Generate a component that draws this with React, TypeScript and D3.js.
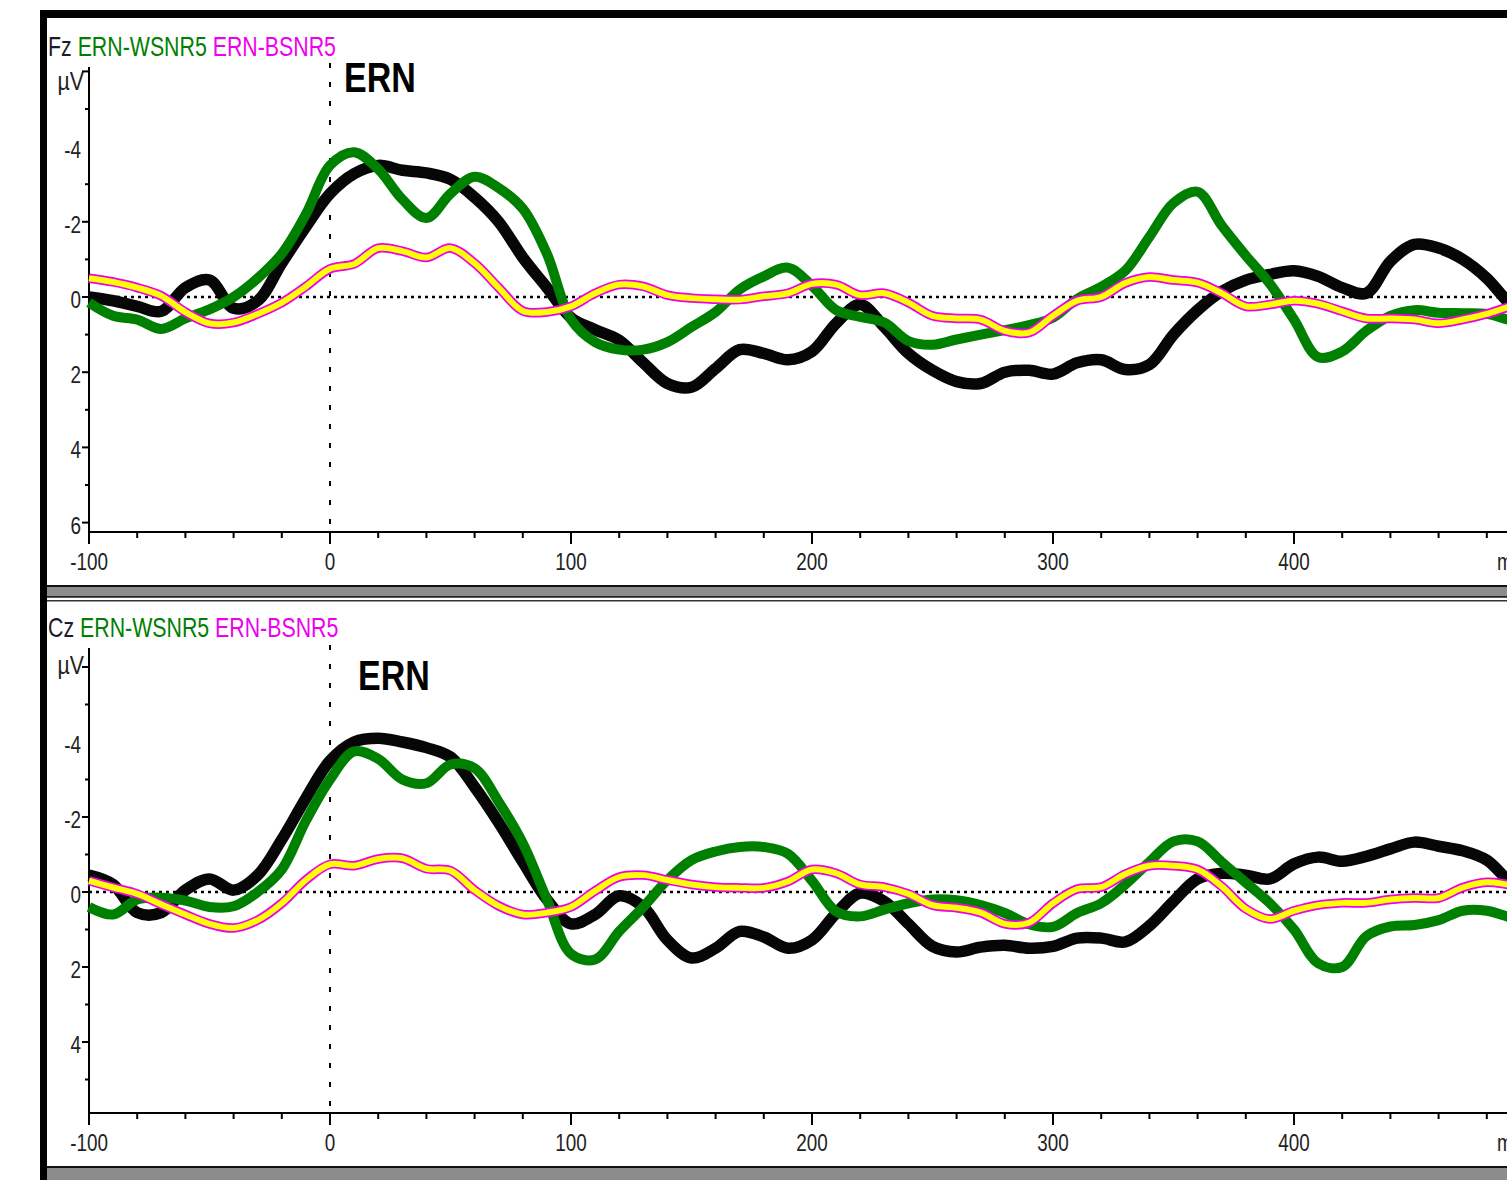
import React from 'react';
import * as d3 from 'd3';

// sample grid (ms)
const times = d3.range(-100, 501, 10);

// Fz channel, µV (negative is drawn up)
const fzBlack = [
  0.0, 0.1, 0.25, 0.38, -0.25, -0.45, 0.3, 0.1, -0.9, -1.87,
  -2.75, -3.28, -3.5, -3.37, -3.3, -3.13, -2.65, -2.0, -1.05, -0.25,
  0.55, 0.87, 1.15, 1.75, 2.3, 2.4, 1.9, 1.4, 1.5, 1.67,
  1.45, 0.7, 0.2, 0.8, 1.5, 1.95, 2.25, 2.3, 2.0, 1.95,
  2.05, 1.75, 1.67, 1.93, 1.8, 1.0, 0.35, -0.15, -0.45, -0.6,
  -0.7, -0.55, -0.25, -0.1, -0.95, -1.4, -1.3, -1.0, -0.5, 0.2, 0.6,
];
const fzWsnr = [
  0.15, 0.5, 0.6, 0.85, 0.57, 0.33, 0.0, -0.5, -1.15, -2.2,
  -3.5, -3.85, -3.4, -2.6, -2.1, -2.75, -3.2, -2.9, -2.35, -1.15,
  0.6, 1.2, 1.4, 1.4, 1.2, 0.8, 0.4, -0.2, -0.55, -0.78,
  -0.3, 0.35, 0.53, 0.68, 1.17, 1.27, 1.13, 1.0, 0.88, 0.75,
  0.55, 0.05, -0.27, -0.7, -1.6, -2.5, -2.8, -1.9, -1.1, -0.35,
  0.6, 1.6, 1.45, 0.9, 0.5, 0.35, 0.42, 0.43, 0.45, 0.62, 0.7,
];
const fzBsnr = [
  -0.5, -0.4, -0.25, -0.03, 0.4, 0.7, 0.68, 0.45, 0.15, -0.28,
  -0.75, -0.88, -1.3, -1.22, -1.05, -1.3, -0.9, -0.25, 0.37, 0.4,
  0.25, -0.1, -0.33, -0.28, -0.05, 0.03, 0.06, 0.07, -0.02, -0.1,
  -0.35, -0.33, -0.05, -0.1, 0.15, 0.5, 0.57, 0.6, 0.9, 0.95,
  0.5, 0.1, 0.0, -0.37, -0.53, -0.45, -0.38, -0.1, 0.25, 0.2,
  0.1, 0.18, 0.38, 0.57, 0.57, 0.6, 0.7, 0.6, 0.45, 0.25, 0.15,
];

// Cz channel
const czBlack = [
  -0.45, -0.2, 0.55, 0.55, -0.05, -0.35, -0.05, -0.45, -1.4, -2.5,
  -3.5, -4.0, -4.1, -4.0, -3.85, -3.6, -2.8, -1.85, -0.8, 0.2,
  0.85, 0.6, 0.1, 0.4, 1.28, 1.76, 1.5, 1.05, 1.2, 1.5,
  1.28, 0.57, 0.03, 0.25, 0.85, 1.45, 1.6, 1.47, 1.42, 1.5,
  1.45, 1.23, 1.23, 1.33, 0.9, 0.25, -0.35, -0.5, -0.45, -0.35,
  -0.75, -0.93, -0.82, -0.95, -1.15, -1.33, -1.22, -1.1, -0.85, -0.25, 0.1,
];
const czWsnr = [
  0.4, 0.6, 0.2, 0.15, 0.23, 0.4, 0.38, 0.0, -0.6, -1.9,
  -3.0, -3.75, -3.55, -3.0, -2.9, -3.4, -3.3, -2.4, -1.3, 0.2,
  1.65, 1.8, 1.05, 0.4, -0.32, -0.85, -1.08, -1.2, -1.2, -1.02,
  -0.3, 0.52, 0.65, 0.47, 0.3, 0.2, 0.22, 0.35, 0.56, 0.86,
  0.93, 0.56, 0.3, -0.2, -0.8, -1.35, -1.35, -0.8, -0.25, 0.3,
  1.0, 1.9, 2.0, 1.18, 0.92, 0.88, 0.75, 0.5, 0.5, 0.68, 0.8,
];
const czBsnr = [
  -0.3, -0.12, 0.05, 0.33, 0.6, 0.85, 0.96, 0.75, 0.3, -0.32,
  -0.74, -0.7, -0.88, -0.9, -0.62, -0.57, -0.05, 0.37, 0.6, 0.55,
  0.4, -0.03, -0.4, -0.45, -0.32, -0.2, -0.13, -0.11, -0.11, -0.28,
  -0.6, -0.5, -0.2, -0.13, 0.05, 0.35, 0.42, 0.55, 0.85, 0.82,
  0.3, -0.08, -0.13, -0.48, -0.7, -0.7, -0.6, -0.15, 0.45, 0.72,
  0.5, 0.35, 0.29, 0.29, 0.2, 0.16, 0.16, -0.12, -0.26, -0.19, -0.15,
];

const seriesNames = ['ERN-WSNR5', 'ERN-BSNR5'];
const xMajor = [-100, 0, 100, 200, 300, 400];
const xMinor = d3.range(-100, 501, 20);
const yLabelled = [-4, -2, 0, 2, 4, 6];
const yMinor = [-5, -3, -2, -1, 0, 1, 2, 3, 4, 5, 6];

const FONT = '"Liberation Sans", Arial, sans-serif';
const GREEN = '#008000';
const MAGENTA = '#ee00ee';

const x = d3.scaleLinear().domain([-100, 500]).range([89, 1535]);

type PanelProps = {
  chan: string;
  black: number[];
  wsnr: number[];
  bsnr: number[];
  y0: number;
  px: number;
  axisY: number;
  axisTop: number;
  legendY: number;
  muY: number;
  ernX: number;
  ernY: number;
  dotTop: number;
};

function Panel(p: PanelProps) {
  const y = d3.scaleLinear().domain([-6, 6]).range([p.y0 - 6 * p.px, p.y0 + 6 * p.px]);
  const line = d3
    .line<number>()
    .x((_, i) => x(times[i]))
    .y((d) => y(d))
    .curve(d3.curveCatmullRom.alpha(0.5));
  const ax = x(-100);
  const ticksY = [-6, ...yMinor].filter((v) => y(v) < p.axisY - 2);
  return (
    <g>
      {/* legend */}
      <text transform={`translate(48,${p.legendY}) scale(0.79,1)`} fontFamily={FONT} fontSize={27}>
        <tspan fill="#1b1b30">{p.chan} </tspan>
        <tspan fill={GREEN}>{seriesNames[0]} </tspan>
        <tspan fill={MAGENTA}>{seriesNames[1]}</tspan>
      </text>
      <text transform={`translate(${p.ernX},${p.ernY}) scale(0.81,1)`} fontFamily={FONT} fontSize={42} fontWeight="bold" fill="#000">
        ERN
      </text>

      {/* zero lines */}
      <line x1={ax} x2={1507} y1={y(0)} y2={y(0)} stroke="#000" strokeWidth={2.5} strokeDasharray="3,4" />
      <line x1={x(0)} x2={x(0)} y1={p.dotTop} y2={p.axisY} stroke="#000" strokeWidth={2} strokeDasharray="5,14" />

      {/* axes */}
      <line x1={ax} x2={ax} y1={p.axisTop} y2={p.axisY + 12} stroke="#000" strokeWidth={2} />
      <line x1={ax} x2={1507} y1={p.axisY} y2={p.axisY} stroke="#000" strokeWidth={2} />
      {ticksY.map((v) => (
        <line key={'yt' + v} x1={ax - (v % 2 === 0 ? 7 : 4)} x2={ax} y1={y(v)} y2={y(v)} stroke="#000" strokeWidth={2} />
      ))}
      {yLabelled.filter((v) => y(v) < p.axisY - 2).map((v) => (
        <text key={'yl' + v} transform={`translate(81,${y(v) + 11}) scale(0.82,1)`} textAnchor="end" fontFamily={FONT} fontSize={23} fill="#222">
          {v}
        </text>
      ))}
      <text transform={`translate(84,${p.muY}) scale(0.85,1)`} textAnchor="end" fontFamily={FONT} fontSize={25} fill="#222">
        µV
      </text>
      {xMinor.map((t) => (
        <line key={'xt' + t} x1={x(t)} x2={x(t)} y1={p.axisY} y2={p.axisY + (t % 100 === 0 ? 12 : 6)} stroke="#000" strokeWidth={2} />
      ))}
      {xMajor.map((t) => (
        <text key={'xl' + t} transform={`translate(${x(t)},${p.axisY + 38}) scale(0.82,1)`} textAnchor="middle" fontFamily={FONT} fontSize={23} fill="#222">
          {t}
        </text>
      ))}
      <text transform={`translate(1497,${p.axisY + 38}) scale(0.82,1)`} fontFamily={FONT} fontSize={23} fill="#222">
        ms
      </text>

      {/* waveforms */}
      <path d={line(p.black) || ''} fill="none" stroke="#060606" strokeWidth={11.5} strokeLinejoin="round" />
      <path d={line(p.wsnr) || ''} fill="none" stroke={GREEN} strokeWidth={10} strokeLinejoin="round" />
      <path d={line(p.bsnr) || ''} fill="none" stroke={MAGENTA} strokeWidth={9.5} strokeLinejoin="round" />
      <path d={line(p.bsnr) || ''} fill="none" stroke="#ffff00" strokeWidth={6} strokeLinejoin="round" />
    </g>
  );
}

export default function App() {
  return (
    <svg width={1507} height={1180} style={{ position: 'absolute', left: 0, top: 0, background: '#fff' }}>
      <rect x={0} y={0} width={1507} height={1180} fill="#fff" />
      {/* window frame */}
      <rect x={40} y={10} width={1467} height={8} fill="#000" />
      <rect x={40} y={10} width={7} height={1170} fill="#000" />

      <Panel chan="Fz" black={fzBlack} wsnr={fzWsnr} bsnr={fzBsnr} y0={297} px={37.6} axisY={532}
        axisTop={67} legendY={56} muY={90} ernX={344} ernY={92} dotTop={63} />
      <Panel chan="Cz" black={czBlack} wsnr={czWsnr} bsnr={czBsnr} y0={892} px={37.5} axisY={1113}
        axisTop={648} legendY={637} muY={674} ernX={358} ernY={690} dotTop={645} />

      {/* splitter between panes */}
      <rect x={47} y={585} width={1460} height={13} fill="#8c8c8c" />
      <rect x={47} y={585} width={1460} height={2} fill="#111" />
      <rect x={47} y={596} width={1460} height={1.5} fill="#222" />
      <rect x={47} y={600} width={1460} height={1.5} fill="#333" />
      {/* bottom splitter */}
      <rect x={47} y={1166} width={1460} height={14} fill="#8c8c8c" />
      <rect x={47} y={1166} width={1460} height={2} fill="#111" />
    </svg>
  );
}
